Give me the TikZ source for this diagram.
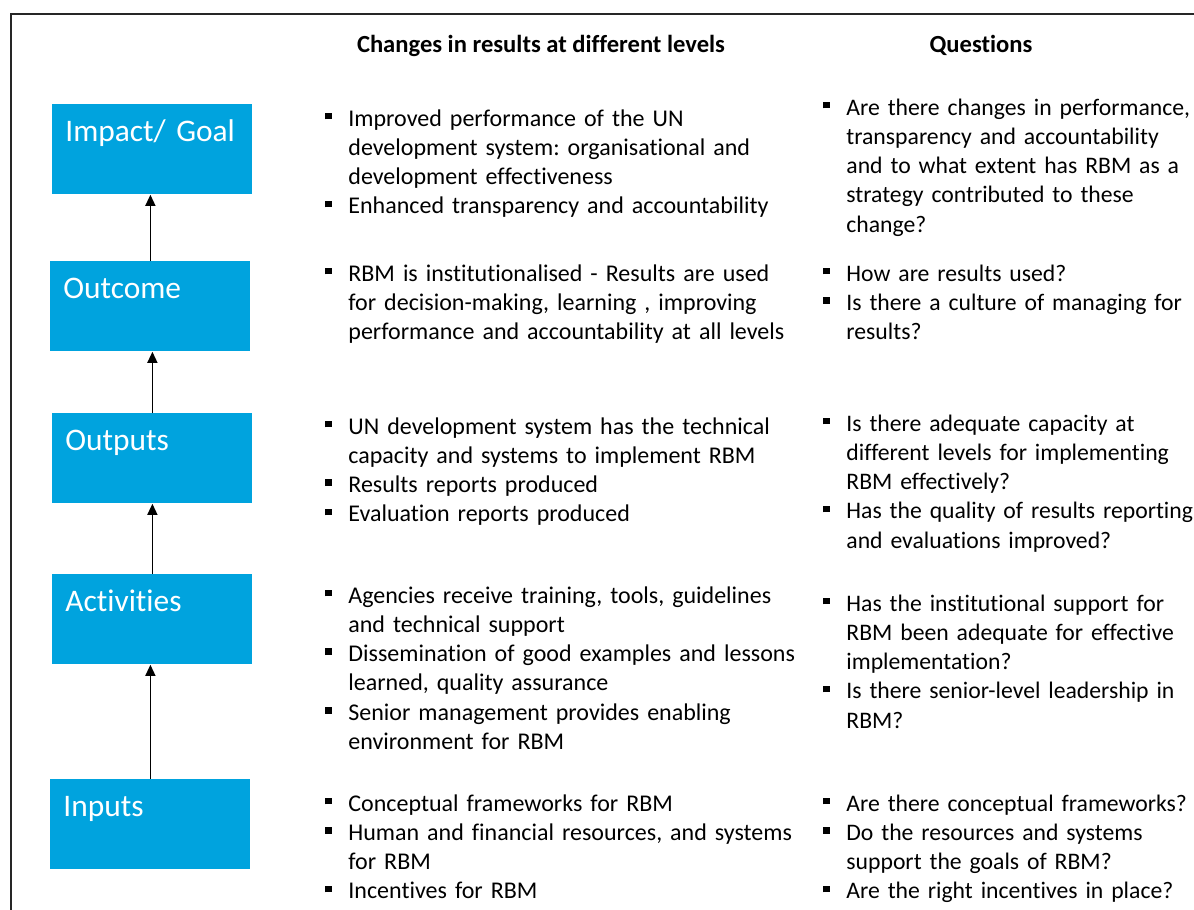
\documentclass[tikz,border=0pt]{standalone}
\usepackage{fontspec}
\setmainfont{Carlito}[Ligatures=NoCommon]
\usetikzlibrary{arrows.meta}
\definecolor{rbmblue}{RGB}{0,163,222}
\def\Bul{\makebox[11.5pt][l]{\rule[3.3pt]{3.3pt}{3.3pt}}}
\def\Ind{\hspace*{11.5pt}}
\frenchspacing
\tikzset{
  lvl/.style={rectangle, fill=rbmblue, anchor=north west, minimum width=100pt,
    minimum height=45pt, inner xsep=6.5pt, inner ysep=0pt, text width=87pt,
    text height=18.5pt, text depth=26.5pt, align=left, text=white,
    font=\fontsize{15.7}{19}\selectfont},
  lst/.style={anchor=base west, inner sep=0pt, text width=250pt, align=left,
    font=\fontsize{12}{14.65}\selectfont},
  qst/.style={lst, font=\fontsize{11.85}{14.65}\selectfont},
  hdr/.style={anchor=base, inner sep=0pt, font=\bfseries\fontsize{12.3}{14}\selectfont},
  up/.style={-{Triangle[width=5pt,length=5.5pt]}, line width=0.65pt},
}

\begin{document}
\begin{tikzpicture}[x=0.5pt, y=-0.5pt]
\useasboundingbox (0,0) rectangle (1194,910);

% frame
\draw[line width=0.8pt, black!85] (11,910) -- (11,14) -- (1194,14);

% headers
\node[hdr] (h1) at (541,52) {Changes in results at different levels};
\node[hdr] (h2) at (981,52) {Questions};

% levels
\node[lvl] (imp) at (52,104) {Impact/ Goal};
\node[lvl] (out) at (50,261) {Outcome};
\node[lvl] (opt) at (52,413) {Outputs};
\node[lvl] (act) at (52,574) {Activities};
\node[lvl] (inp) at (50,779) {Inputs};

\draw[up] (out.north) -- (out.north |- imp.south);
\draw[up] (opt.north) -- (opt.north |- out.south);
\draw[up] (act.north) -- (act.north |- opt.south);
\draw[up] (inp.north) -- (inp.north |- act.south);

% changes
\node[lst] (c1) at (325,126) {\Bul Improved performance of the UN\\
  \Ind development system: organisational and\\
  \Ind development effectiveness\\
  \Bul Enhanced transparency and accountability};
\node[lst] (c2) at (325,281) {\Bul RBM is institutionalised - Results are used\\
  \Ind for decision-making, learning , improving\\
  \Ind performance and accountability at all levels};
\node[lst] (c3) at (325,434) {\Bul UN development system has the technical\\
  \Ind capacity and systems to implement RBM\\
  \Bul Results reports produced\\
  \Bul Evaluation reports produced};
\node[lst] (c4) at (325,603) {\Bul Agencies receive training, tools, guidelines\\
  \Ind and technical support\\
  \Bul Dissemination of good examples and lessons\\
  \Ind learned, quality assurance\\
  \Bul Senior management provides enabling\\
  \Ind environment for RBM};
\node[lst] (c5) at (325,811) {\Bul Conceptual frameworks for RBM\\
  \Bul Human and financial resources, and systems\\
  \Ind for RBM\\
  \Bul Incentives for RBM};

% questions
\node[qst] (q1) at (823,115) {\Bul Are there changes in performance,\\
  \Ind transparency and accountability\\
  \Ind and to what extent has RBM as a\\
  \Ind strategy contributed to these\\
  \Ind change?};
\node[qst] (q2) at (823,281) {\Bul How are results used?\\
  \Bul Is there a culture of managing for\\
  \Ind results?};
\node[qst] (q3) at (823,431) {\Bul Is there adequate capacity at\\
  \Ind different levels for implementing\\
  \Ind RBM effectively?\\
  \Bul Has the quality of results reporting\\
  \Ind and evaluations improved?};
\node[qst] (q4) at (823,611) {\Bul Has the institutional support for\\
  \Ind RBM been adequate for effective\\
  \Ind implementation?\\
  \Bul Is there senior-level leadership in\\
  \Ind RBM?};
\node[qst] (q5) at (823,811) {\Bul Are there conceptual frameworks?\\
  \Bul Do the resources and systems\\
  \Ind support the goals of RBM?\\
  \Bul Are the right incentives in place?};
\end{tikzpicture}
\end{document}
